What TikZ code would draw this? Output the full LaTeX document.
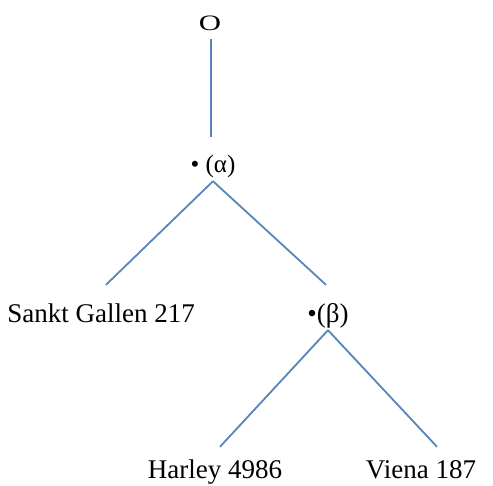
\documentclass[tikz,border=0pt]{standalone}
\usepackage{fontspec}
\setmainfont{Liberation Serif}
\definecolor{linkblue}{RGB}{86,133,190}
\begin{document}
\begin{tikzpicture}[x=1pt,y=1pt,
  lbl/.style={inner xsep=2pt, inner ysep=0pt, text height=18pt, text depth=0pt, font=\fontsize{27}{32}\selectfont},
  link/.style={draw=linkblue, line width=1.8pt}]
\useasboundingbox (0,0) rectangle (493,-485);
\node[lbl, font=\fontsize{22}{26}\selectfont, text height=15pt, xscale=1.4] (O) at (210,-22.5) {O};
\node[lbl, font=\fontsize{25}{30}\selectfont] (alpha) at (213,-163) {• (α)};
\node[lbl] (sankt) at (101,-313) {Sankt Gallen 217};
\node[lbl] (beta) at (328,-313) {•(β)};
\node[lbl] (harley) at (215,-469) {Harley 4986};
\node[lbl] (viena) at (421,-469) {Viena 187};
\draw[link, shorten <=9pt, shorten >=17pt] ([xshift=1pt]O.south) -- ([xshift=1pt]O.south |- alpha.north);
\draw[link] ([yshift=-9pt]alpha.south) -- ([xshift=5pt,yshift=19pt]sankt.north);
\draw[link] ([yshift=-9pt]alpha.south) -- ([xshift=-2pt,yshift=19pt]beta.north);
\draw[link] ([yshift=-8pt]beta.south) -- ([xshift=5pt,yshift=13pt]harley.north);
\draw[link] ([yshift=-8pt]beta.south) -- ([xshift=16pt,yshift=13pt]viena.north);
\end{tikzpicture}
\end{document}
